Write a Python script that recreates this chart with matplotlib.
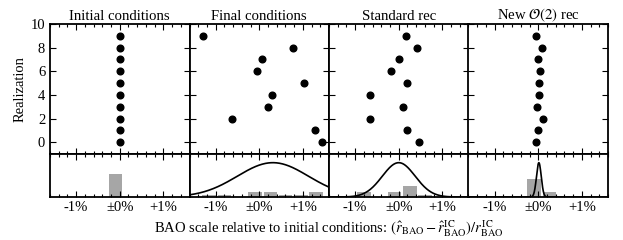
import numpy as np
import matplotlib
matplotlib.use("Agg")
import matplotlib.pyplot as plt
from matplotlib.ticker import MultipleLocator

plt.rcParams['font.family'] = ['Liberation Serif', 'DejaVu Serif']
plt.rcParams['mathtext.fontset'] = 'stix'
plt.rcParams['font.size'] = 10.5

# one column per stage of the analysis
titles = ["Initial conditions", "Final conditions", "Standard rec", r"New $\mathcal{O}(2)$ rec"]
realization = np.arange(10)

# fitted BAO shift [%] for realization 0..9
shift_initial = [0.00, 0.00, 0.00, 0.00, 0.00, 0.00, 0.00, 0.00, 0.00, 0.00]
shift_final = [1.45, 1.29, -0.63, 0.20, 0.30, 1.03, -0.05, 0.07, 0.77, -1.30]
shift_standard = [0.47, 0.20, -0.67, 0.09, -0.67, 0.18, -0.17, 0.00, 0.41, 0.16]
shift_new = [-0.06, 0.00, 0.11, -0.04, 0.02, 0.02, 0.05, 0.00, 0.09, -0.05]
shifts = [shift_initial, shift_final, shift_standard, shift_new]

bin_edges = [-1.67, -1.32, -0.97, -0.62, -0.27, 0.08, 0.43, 0.78, 1.13, 1.48]
xticks = [-1, 0, 1]
xticklabels = ["-1%", u"\u00b10%", "+1%"]
yticks = [0, 2, 4, 6, 8, 10]

fig = plt.figure(figsize=(6.23, 2.40), dpi=100)

left0 = 50 / 623.
width = 139.5 / 623.
xx = np.linspace(-1.6, 1.6, 400)


def style(ax):
    for s in ax.spines.values():
        s.set_linewidth(1.3)
    ax.tick_params(which='both', direction='in', top=True, right=True, width=0.8)
    ax.tick_params(which='major', length=4.5)
    ax.tick_params(which='minor', length=2.5)
    ax.set_xlim(-1.6, 1.6)
    ax.set_xticks(xticks)
    ax.xaxis.set_minor_locator(MultipleLocator(0.2))


for i in range(4):
    left = left0 + i * width
    top = fig.add_axes([left, 0.358, width, 0.542])
    bot = fig.add_axes([left, 0.179, width, 0.179])
    style(top)
    style(bot)

    # realizations
    top.plot(shifts[i], realization, 'o', color='k', markersize=4.8)
    top.set_ylim(-1, 10)
    top.set_yticks(yticks)
    top.set_xticklabels([])
    top.set_title(titles[i], pad=3, fontsize=10.6)
    if i == 0:
        top.set_ylabel("Realization", labelpad=3)
    else:
        top.set_yticklabels([])

    # histogram + gaussian with same mean / std
    vals = np.array(shifts[i])
    bot.hist(vals, bins=bin_edges, weights=np.ones(len(vals)) / 15.,
             color='0.65', rwidth=0.9, zorder=1)
    mu, sd = vals.mean(), vals.std()
    if sd > 0:
        bot.plot(xx, np.exp(-0.5 * ((xx - mu) / sd) ** 2), color='k', lw=1.2, zorder=2)
    bot.set_ylim(0, 1.25)
    bot.set_yticks([])
    bot.set_xticklabels(xticklabels)
    bot.tick_params(axis='x', pad=2.5)

fig.text(left0 + 2 * width, 0.048,
         r"BAO scale relative to initial conditions: $(\hat{r}_\mathrm{BAO} - \hat{r}_\mathrm{BAO}^\mathrm{IC})/r_\mathrm{BAO}^\mathrm{IC}$",
         ha='center', va='center')

fig.savefig("out.png", dpi=100)
